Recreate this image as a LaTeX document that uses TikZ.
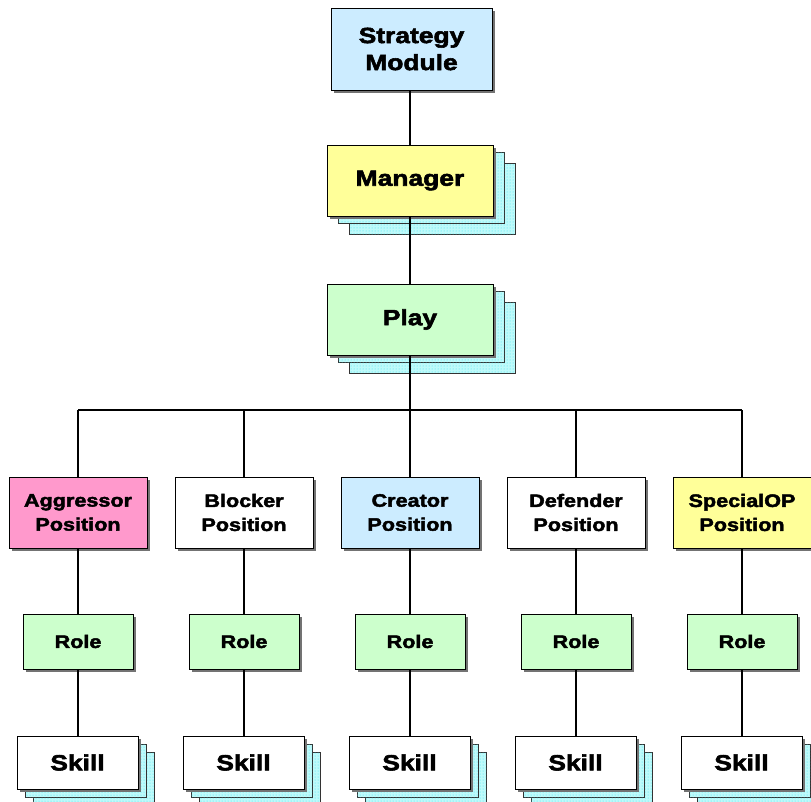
\documentclass[tikz,border=0pt]{standalone}
\usepackage{fontspec}
\newfontfamily\hfont{Liberation Sans}[FakeStretch=1.2, BoldFeatures={FakeBold=2.5}]
\usetikzlibrary{shadows,patterns}
\definecolor{cblue}{RGB}{204,236,255}
\definecolor{cyel}{RGB}{255,255,153}
\definecolor{cgreen}{RGB}{204,255,204}
\definecolor{cpink}{RGB}{255,153,204}
\definecolor{cstack}{RGB}{190,250,250}
\definecolor{cdots}{RGB}{60,225,240}
\tikzset{
  box/.style={draw=black, line width=1pt, align=center, inner sep=0pt,
    drop shadow={shadow xshift=3pt, shadow yshift=-3pt, fill=black!55, opacity=1}},
  big/.style={box, font=\hfont\bfseries\fontsize{22}{27}\selectfont},
  small/.style={box, font=\hfont\bfseries\fontsize{18}{24}\selectfont},
  stack/.style={draw=black!80, line width=0.8pt, fill=cstack,
    postaction={pattern=dots, pattern color=cdots}},
  conn/.style={line width=1.6pt, draw=black},
}
\begin{document}
\begin{tikzpicture}[x=1pt,y=-1pt]
\useasboundingbox[fill=white] (0,0) rectangle (811,801);
% top chain
\node[big, fill=cblue, minimum width=161, minimum height=82] (strat) at (411.5,49) {Strategy\\Module};
\node[stack, minimum width=166, minimum height=71] (man3) at (432,198.5) {};
\node[stack, minimum width=166, minimum height=71] (man2) at (421,187.5) {};
\node[big, fill=cyel, minimum width=166, minimum height=71] (man) at (410,180.5) {Manager};
\node[stack, minimum width=166, minimum height=71] (play3) at (432,337.5) {};
\node[stack, minimum width=166, minimum height=71] (play2) at (421,326.5) {};
\node[big, fill=cgreen, minimum width=166, minimum height=71] (play) at (410,319.5) {Play};
\coordinate (bus) at (410,410);
% columns
\foreach \i/\x/\col/\txt in {1/78/cpink/Aggressor, 2/244/white/Blocker, 3/410/cblue/Creator, 4/576/white/Defender, 5/742/cyel/SpecialOP}{
  \coordinate (b\i) at (\x,410);
  \node[small, fill=\col, minimum width=138, minimum height=71] (pos\i) at (\x,512.5) {\txt\\Position};
  \node[small, fill=cgreen, minimum width=110, minimum height=55] (role\i) at (\x,641.5) {Role};
  \node[stack, minimum width=121, minimum height=53] (sk3\i) at (\x+15.5,778.5) {};
  \node[stack, minimum width=121, minimum height=53] (sk2\i) at (\x+7.5,770.5) {};
  \node[big, fill=white, minimum width=121, minimum height=53] (sk\i) at (\x-0.5,762.5) {Skill};
  \draw[conn] (b\i) -- (pos\i.north);
  \draw[conn] (pos\i.south) -- (role\i.north);
  \draw[conn] (role\i.south) -- (role\i.south |- sk\i.north);
}
\draw[conn] (strat.south -| man.north) -- (man.north);
\draw[conn] (man.south) -- (play.north);
\draw[conn] (play.south) -- (bus);
\draw[conn] (b1) -- (b5);
\end{tikzpicture}
\end{document}
